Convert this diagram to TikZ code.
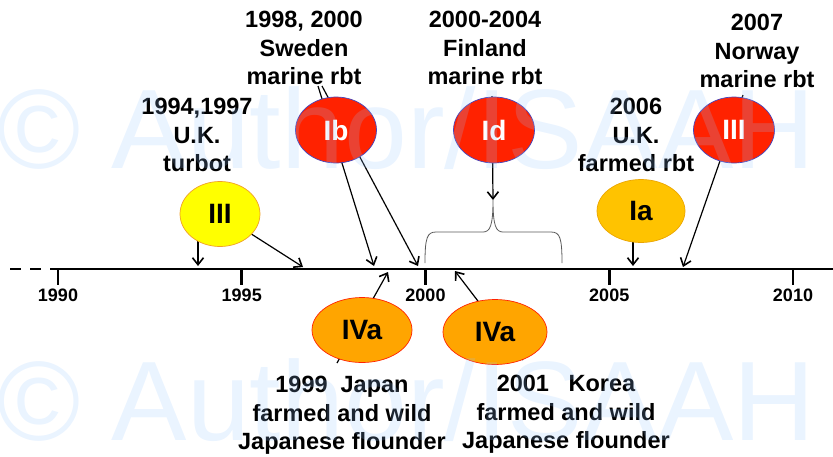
\documentclass[tikz,border=0pt]{standalone}
\usepackage{fontspec}
\setmainfont{Liberation Sans}
\usetikzlibrary{shapes.geometric,arrows.meta,backgrounds}
\definecolor{typered}{RGB}{255,34,0}
\definecolor{typeredline}{RGB}{70,70,190}
\definecolor{typeyellow}{RGB}{255,255,0}
\definecolor{typeyellowline}{RGB}{240,160,40}
\definecolor{typegold}{RGB}{255,195,0}
\definecolor{typegoldline}{RGB}{235,165,0}
\definecolor{typeorange}{RGB}{255,165,0}
\definecolor{bracegray}{RGB}{90,90,90}
\definecolor{markblue}{RGB}{150,198,255}
\begin{document}
\begin{tikzpicture}[x=1pt,y=-1pt,
  place/.style={align=center,inner sep=1pt,font=\fontsize{23.5}{28.5}\selectfont\bfseries},
  strain/.style={ellipse,inner sep=0pt,line width=0.7pt,font=\fontsize{28}{30}\selectfont\bfseries},
  redstrain/.style={strain,fill=typered,draw=typeredline,text=white,minimum width=81pt,minimum height=66pt},
  orangestrain/.style={strain,fill=typeorange,draw=typered,minimum height=65pt},
  watermark/.style={anchor=base west,inner sep=0pt,text=markblue,text opacity=0.2,font=\fontsize{113}{113}\selectfont},
  pointer/.style={line width=1.2pt,-{Straight Barb[length=7pt,width=11pt,line width=1.6pt]}}]
\useasboundingbox (0,0) rectangle (833,456);
\node[place,anchor=south] (tTurbot) at (197,173) {1994,1997\\U.K.\\turbot};
\node[place,anchor=south] (tSweden) at (304,86) {1998, 2000\\Sweden\\marine rbt};
\node[place,anchor=south] (tFinland) at (485,86) {2000-2004\\Finland\\marine rbt};
\node[place,anchor=south] (tNorway) at (757,89) {2007\\Norway\\marine rbt};
\node[place,anchor=south] (tFarmed) at (636,173) {2006\\U.K.\\farmed rbt};
\node[place,anchor=north] (tJapan) at (342,375) {1999~~Japan\\farmed and wild\\Japanese flounder};
\node[place,anchor=north] (tKorea) at (566,374) {2001~~~Korea\\farmed and wild\\Japanese flounder};
\node[strain,fill=typeyellow,draw=typeyellowline,minimum width=80pt,minimum height=65pt] (yIII) at (220,214) {III};
\node[redstrain] (Ib) at (336,130) {Ib};
\node[redstrain] (Id) at (494,130) {Id};
\node[redstrain] (rIII) at (734,130) {III};
\node[strain,fill=typegold,draw=typegoldline,minimum width=88pt,minimum height=63pt] (Ia) at (641,211) {Ia};
\node[orangestrain,minimum width=100pt] (IVaJ) at (362,330) {IVa};
\node[orangestrain,minimum width=104pt] (IVaK) at (495,332) {IVa};
\coordinate (a1994) at (198,266);
\coordinate (a1997) at (303,267);
\coordinate (a1998) at (374,266);
\coordinate (a2000) at (418,266);
\coordinate (a2006) at (633,266);
\coordinate (a2007) at (683,267);
\coordinate (a1999) at (388,272);
\coordinate (a2001) at (455,271);
\coordinate (bracetip) at (493,200);
\draw[line width=2.8pt] (58,269) -- (833,269);
\draw[line width=2.8pt,dash pattern=on 11pt off 9pt] (10,269) -- (58,269);
\foreach \yr in {1990,1995,2000,2005,2010}
  \draw[line width=2.8pt] ({58+(\yr-1990)*36.75},269) -- ++(0,16)
    node[below=2pt,inner sep=1pt,font=\fontsize{18}{18}\selectfont\bfseries] (y\yr) {\yr};
\draw[bracegray,line width=0.8pt] (425,263) .. controls (425,238) and (427,232) .. (436,232) -- (483,232)
  .. controls (490,232) and (493,226) .. (bracetip) .. controls (493,226) and (496,232) .. (503,232)
  -- (551,232) .. controls (560,232) and (562,238) .. (562,263);
\begin{pgfonlayer}{background}
\draw[pointer] (yIII.center -| a1994) -- (a1994);
\draw[pointer] (yIII.center) -- (a1997);
\draw[pointer] ([xshift=14pt]tSweden.south) -- (a1998);
\draw[pointer] ([xshift=18pt]tSweden.south) -- (a2000);
\draw[pointer] ([shift={(7,10)}]tFinland.south) -- (bracetip);
\draw[pointer] ([shift={(-14,6)}]tNorway.south) -- (a2007);
\draw[pointer] (Ia.center -| a2006) -- (a2006);
\draw[pointer] ([shift={(-5,-12)}]tJapan.north) -- (a1999);
\draw[pointer] ([shift={(-43,-14)}]tKorea.north) -- (a2001);
\end{pgfonlayer}
\node[watermark] (markTop) at (-3,168) {© Author/ISAAH};
\node[watermark] (markBottom) at (-3,440) {© Author/ISAAH};
\end{tikzpicture}
\end{document}
